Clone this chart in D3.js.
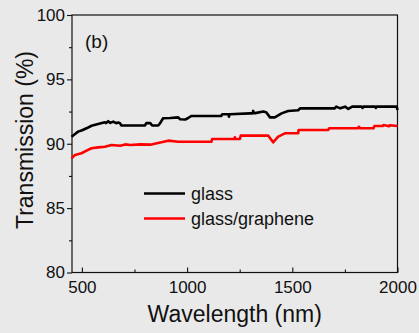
<!DOCTYPE html>
<html>
<head>
<meta charset="utf-8">
<script src="https://cdn.jsdelivr.net/npm/d3@7"></script>
<style>
  html, body { margin: 0; padding: 0; background: #e9e9e9; }
  svg { display: block; }
  text { font-family: "Liberation Sans", Arial, sans-serif; fill: #111; }
</style>
</head>
<body>
<svg id="chart" width="419" height="333"></svg>
<script>
// Transmission spectra: wavelength (nm) vs transmission (%)
const glassWl = [451, 463, 482, 501, 522, 546, 577, 609, 615, 625, 635, 649, 663, 673, 681, 687, 800, 806, 825, 834, 863, 872, 886, 920, 958, 967, 991, 1005, 1021, 1162, 1167, 1197, 1199, 1201, 1203, 1298, 1312, 1314, 1318, 1324, 1362, 1376, 1394, 1417, 1449, 1480, 1528, 1537, 1702, 1709, 1728, 1751, 1766, 1785, 1830, 1834, 1838, 1894, 1897, 1900, 1990, 1996, 2000];
const glassT  = [90.55, 90.7, 90.94, 91.05, 91.2, 91.4, 91.53, 91.67, 91.6, 91.75, 91.62, 91.72, 91.6, 91.65, 91.6, 91.42, 91.42, 91.6, 91.6, 91.42, 91.42, 91.6, 91.98, 92.0, 92.05, 91.9, 91.88, 92.0, 92.16, 92.16, 92.29, 92.29, 92.1, 92.29, 92.29, 92.36, 92.36, 92.55, 92.38, 92.38, 92.5, 92.45, 92.05, 92.05, 92.36, 92.54, 92.6, 92.75, 92.75, 92.88, 92.75, 92.88, 92.7, 92.88, 92.88, 92.78, 92.88, 92.88, 92.78, 92.88, 92.88, 92.88, 92.62];

const grapheneWl = [451, 467, 498, 522, 546, 577, 609, 641, 682, 706, 730, 777, 825, 878, 910, 958, 1116, 1119, 1224, 1227, 1231, 1251, 1255, 1386, 1409, 1433, 1465, 1528, 1530, 1671, 1675, 1751, 1813, 1816, 1823, 1886, 1890, 1930, 1933, 1960, 1963, 2000];
const grapheneT  = [88.87, 89.13, 89.26, 89.46, 89.65, 89.72, 89.77, 89.9, 89.85, 89.95, 89.9, 89.95, 89.93, 90.11, 90.24, 90.16, 90.16, 90.37, 90.37, 90.5, 90.37, 90.37, 90.63, 90.63, 90.11, 90.55, 90.81, 90.81, 91.07, 91.07, 91.2, 91.2, 91.2, 91.32, 91.2, 91.2, 91.38, 91.38, 91.45, 91.36, 91.44, 91.38];

const xMajorTicks = [500, 1000, 1500, 2000];
const xMinorTicks = [750, 1250, 1750];
const yMajorTicks = [80, 85, 90, 95, 100];
const yMinorTicks = [82.5, 87.5, 92.5, 97.5];

const seriesNames = ["glass", "glass/graphene"];
const seriesColors = ["#000000", "#ff0000"];

const svg = d3.select("#chart");
const plotLeft = 72, plotRight = 397.5, plotTop = 15, plotBottom = 272.5;

const x = d3.scaleLinear().domain([453, 2000]).range([plotLeft, plotRight]);
const y = d3.scaleLinear().domain([80, 100]).range([plotBottom, plotTop]);

// Frame
svg.append("rect")
  .attr("x", plotLeft).attr("y", plotTop)
  .attr("width", plotRight - plotLeft).attr("height", plotBottom - plotTop)
  .attr("fill", "none").attr("stroke", "#111").attr("stroke-width", 1.2);

// Bottom axis: ticks pointing into the plot
const xAxis = svg.append("g").attr("transform", `translate(0,${plotBottom})`);
xAxis.call(d3.axisBottom(x).tickValues(xMajorTicks).tickSizeInner(-5).tickSizeOuter(0).tickPadding(8).tickFormat(d3.format("d")));
xAxis.append("g").call(d3.axisBottom(x).tickValues(xMinorTicks).tickSizeInner(-3).tickSizeOuter(0).tickFormat(""));
xAxis.selectAll(".domain").remove();
xAxis.selectAll("line").attr("stroke", "#111").attr("stroke-width", 1.1);
xAxis.selectAll("text").attr("font-size", 17).attr("font-family", "Liberation Sans, Arial, sans-serif").attr("fill", "#111");

// Left axis: ticks pointing outward
const yAxis = svg.append("g").attr("transform", `translate(${plotLeft},0)`);
yAxis.call(d3.axisLeft(y).tickValues(yMajorTicks).tickSizeInner(5).tickSizeOuter(0).tickPadding(2).tickFormat(d3.format("d")));
yAxis.append("g").call(d3.axisLeft(y).tickValues(yMinorTicks).tickSizeInner(3).tickSizeOuter(0).tickFormat(""));
yAxis.selectAll(".domain").remove();
yAxis.selectAll("line").attr("stroke", "#111").attr("stroke-width", 1.1);
yAxis.selectAll("text").attr("font-size", 17).attr("font-family", "Liberation Sans, Arial, sans-serif").attr("fill", "#111");

// Curves
const line = d3.line().x(d => x(d[0])).y(d => y(d[1]));
const series = [
  d3.zip(glassWl, glassT),
  d3.zip(grapheneWl, grapheneT)
];
series.forEach((pts, i) => {
  svg.append("path")
    .datum(pts)
    .attr("d", line)
    .attr("fill", "none")
    .attr("stroke", seriesColors[i])
    .attr("stroke-width", 2.6)
    .attr("stroke-linejoin", "round");
});

// Panel label
svg.append("text").attr("x", 85).attr("y", 48).attr("font-size", 19).text("(b)");

// Legend
seriesNames.forEach((name, i) => {
  const ly = 193.5 + i * 25;
  svg.append("line")
    .attr("x1", 144).attr("x2", 185).attr("y1", ly).attr("y2", ly)
    .attr("stroke", seriesColors[i]).attr("stroke-width", 2.4);
  svg.append("text").attr("x", 191).attr("y", ly + 6.5).attr("font-size", 18).text(name);
});

// Axis titles
svg.append("text")
  .attr("x", (plotLeft + plotRight) / 2).attr("y", 322)
  .attr("text-anchor", "middle").attr("font-size", 23)
  .text("Wavelength (nm)");
svg.append("text")
  .attr("transform", "translate(33,140) rotate(-90)")
  .attr("text-anchor", "middle").attr("font-size", 23)
  .text("Transmission (%)");
</script>
</body>
</html>
